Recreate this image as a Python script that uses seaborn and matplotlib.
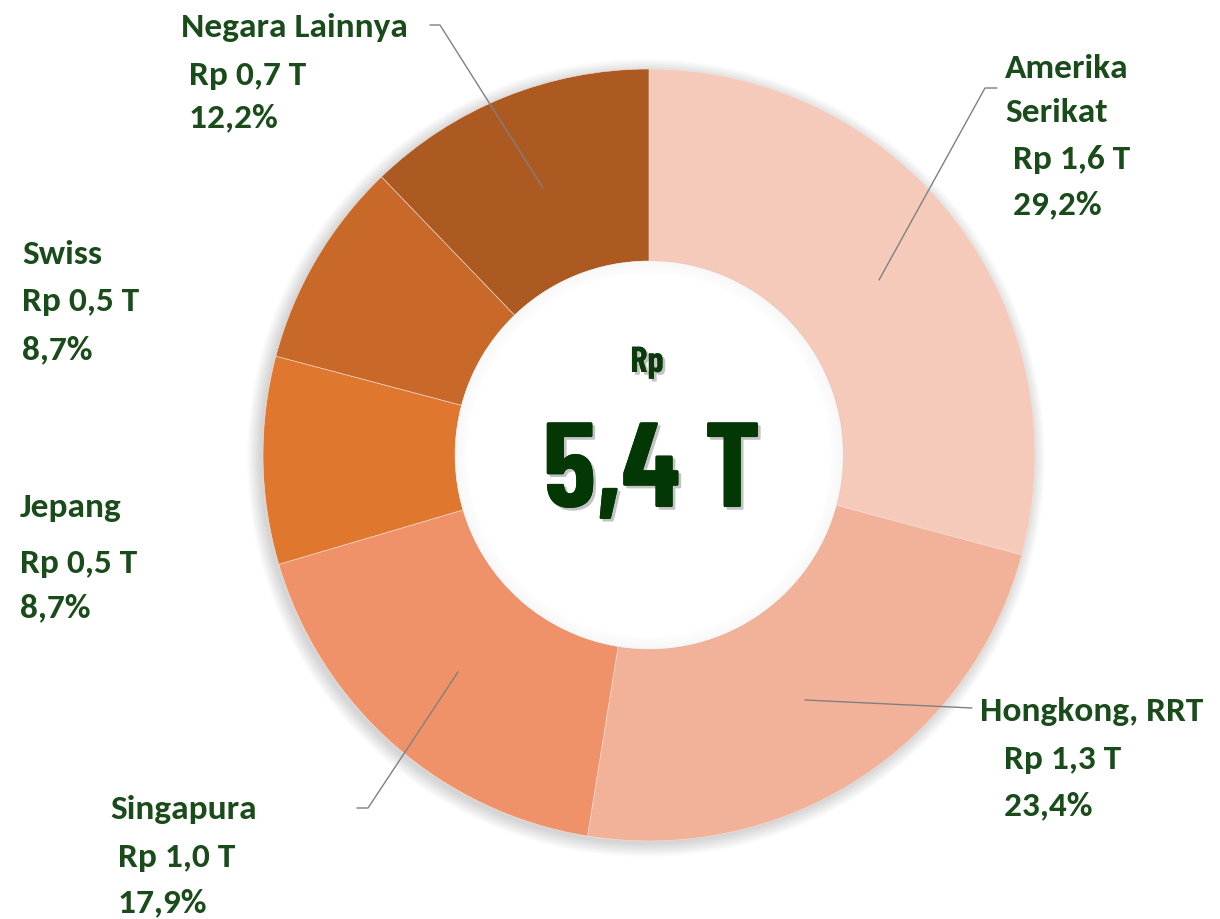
import numpy as np
import seaborn as sns
import matplotlib.pyplot as plt
import matplotlib.patheffects as pe
from matplotlib.patches import Circle

negara = ["Amerika Serikat", "Hongkong, RRT", "Singapura", "Jepang", "Swiss", "Negara Lainnya"]
nilai = ["1,6", "1,3", "1,0", "0,5", "0,5", "0,7"]
persen = [29.2, 23.4, 17.9, 8.7, 8.7, 12.2]
label_teks = [
    ["Amerika", "Serikat", " Rp 1,6 T", " 29,2%"],
    ["Hongkong, RRT", "   Rp 1,3 T", "   23,4%"],
    ["Singapura", " Rp 1,0 T", " 17,9%"],
    ["Jepang", "Rp 0,5 T", "8,7%"],
    ["Swiss", "Rp 0,5 T", "8,7%"],
    ["Negara Lainnya", " Rp 0,7 T", " 12,2%"],
]
total = "5,4 T"
warna = ["#F5CABB", "#F2B29A", "#EF9269", "#E0772F", "#C8692A", "#AD5A22"]

sns.set_theme(style="white")
plt.rcParams["font.family"] = ["Carlito", "Open Sans", "DejaVu Sans"]
font_tengah = ["Barlow Condensed", "Roboto Condensed", "Oswald", "DejaVu Sans"]

W, H = 1220, 919
fig = plt.figure(figsize=(W / 100, H / 100), dpi=100)
ax = fig.add_axes([0, 0, 1, 1])

cx, cy = 649, H - 455
R = 386
r_in = 194

# bayangan luar
for k in range(14):
    ax.add_patch(Circle((cx - 3, cy - 3), R + 13 - k, color="black", alpha=0.01, lw=0, zorder=0))

ax.pie(persen, colors=sns.color_palette(warna), startangle=90, counterclock=False,
       radius=R, center=(cx, cy), frame=True,
       wedgeprops=dict(width=R - r_in, linewidth=0.4, edgecolor="#f3e3da"))

# lingkaran tengah dengan bayangan dalam
ax.add_patch(Circle((cx, cy), r_in, color="white", lw=0, zorder=3))
for k in range(12):
    ax.add_patch(Circle((cx, cy), r_in - k * 1.2, fill=False, ec="black", lw=1.6,
                        alpha=0.018 * (12 - k) / 12, zorder=4))

bayang = [pe.withSimplePatchShadow(offset=(2, -2), alpha=0.35, shadow_rgbFace="#555555"), pe.Normal()]
ax.text(cx - 2, H - 372, "Rp", ha="center", va="baseline", fontsize=26, fontweight="bold",
        family=font_tengah, color="#0B3B0B", zorder=5, path_effects=bayang)
ax.text(cx + 3, H - 507, total, ha="center", va="baseline", fontsize=87, fontweight="bold",
        family=font_tengah, color="#033703", zorder=5, path_effects=bayang)

# posisi label (kiri-atas baris pertama) dan jarak baris
posisi = [(1005, 68, [0, 44, 92, 137]),
          (980, 712, [0, 47, 94]),
          (110, 810, [0, 48, 93]),
          (20, 507, [0, 56, 101]),
          (22, 255, [0, 47, 95]),
          (181, 28, [0, 47, 90])]
for teks, (x, y, dy) in zip(label_teks, posisi):
    for t, d in zip(teks, dy):
        ax.text(x, H - (y + d), t, ha="left", va="center", fontsize=25.5, fontweight="bold",
                color="#1A4B1A", zorder=6)

# garis penunjuk
garis = [[(879, 280), (985, 88), (997, 88)],
         [(805, 700), (972, 708)],
         [(458, 672), (368, 808), (357, 808)],
         [(543, 188), (440, 25), (430, 25)]]
for g in garis:
    xs = [p[0] for p in g]
    ys = [H - p[1] for p in g]
    ax.plot(xs, ys, color="#808080", lw=1.0, zorder=6)

ax.set_xlim(0, W)
ax.set_ylim(0, H)
ax.set_aspect("equal")
ax.axis("off")
fig.savefig("out.png", dpi=100)
